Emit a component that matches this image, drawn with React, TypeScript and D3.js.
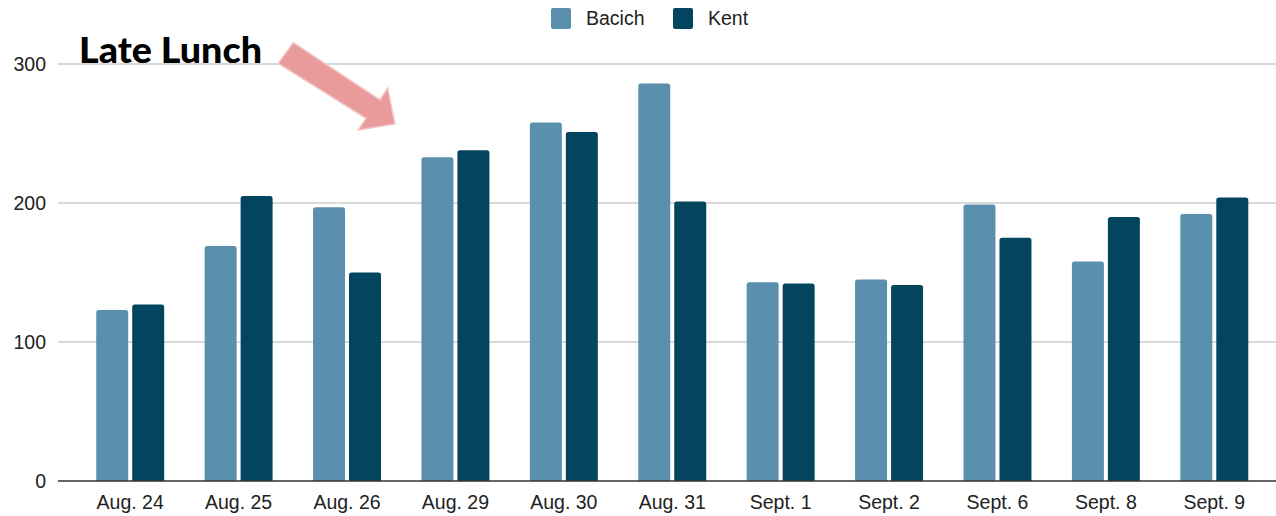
import React from "react";
import * as d3 from "d3";

const categories = ["Aug. 24", "Aug. 25", "Aug. 26", "Aug. 29", "Aug. 30", "Aug. 31", "Sept. 1", "Sept. 2", "Sept. 6", "Sept. 8", "Sept. 9"];
const bacich = [123, 169, 197, 233, 258, 286, 143, 145, 199, 158, 192];
const kent = [127, 205, 150, 238, 251, 201, 142, 141, 175, 190, 204];
const seriesNames = ["Bacich", "Kent"];
const seriesColors = ["#5a90ae", "#03445f"];
const yTicks = [0, 100, 200, 300];

const W = 1276;
const H = 516;

function topRounded(x: number, y: number, w: number, h: number, r: number) {
  const rr = Math.min(r, h, w / 2);
  return `M${x},${y + h}V${y + rr}Q${x},${y} ${x + rr},${y}H${x + w - rr}Q${x + w},${y} ${x + w},${y + rr}V${y + h}Z`;
}

export default function App() {
  const y = d3.scaleLinear().domain([0, 300]).range([481, 64]);
  const x = d3
    .scaleBand<string>()
    .domain(categories)
    .range([76, 1268.5])
    .paddingInner(0.373)
    .paddingOuter(0.1865);
  const xs = d3
    .scaleBand<string>()
    .domain(seriesNames)
    .range([0, x.bandwidth()])
    .paddingInner(4 / 36)
    .paddingOuter(0);
  const data = [bacich, kent];
  const font = "'Liberation Sans', Arial, sans-serif";

  return (
    <svg width={W} height={H} style={{ position: "absolute", left: 0, top: 0, background: "#fff" }}>
      {/* gridlines */}
      {yTicks.map((t) => (
        <g key={t}>
          {t !== 0 && (
            <line x1={58} x2={W} y1={y(t)} y2={y(t)} stroke="#cccccc" strokeWidth={1.3} />
          )}
          <text x={46} y={y(t)} dy="0.35em" textAnchor="end" fontFamily={font} fontSize={19.5} fill="#222">
            {t}
          </text>
        </g>
      ))}
      {/* bars */}
      {categories.map((c, i) => (
        <g key={c}>
          {data.map((series, s) => {
            const x0 = (x(c) as number) + (xs(seriesNames[s]) as number);
            const top = y(series[i]);
            return (
              <path
                key={s}
                d={topRounded(x0, top, xs.bandwidth(), y(0) - top, 2.5)}
                fill={seriesColors[s]}
              />
            );
          })}
          <text
            x={(x(c) as number) + x.bandwidth() / 2}
            y={502}
            dy="0.35em"
            textAnchor="middle"
            fontFamily={font}
            fontSize={19.5}
            fill="#222"
          >
            {c}
          </text>
        </g>
      ))}
      {/* baseline */}
      <line x1={58} x2={W} y1={y(0)} y2={y(0)} stroke="#333" strokeWidth={1.5} />
      {/* legend */}
      {seriesNames.map((n, i) => {
        const lx = [551, 673][i];
        return (
          <g key={n}>
            <rect x={lx} y={8} width={20} height={21} rx={2} fill={seriesColors[i]} />
            <text x={lx + 35} y={18.5} dy="0.35em" fontFamily={font} fontSize={19.5} fill="#222">
              {n}
            </text>
          </g>
        );
      })}
      {/* annotation */}
      <text
        x={79}
        y={63}
        fontFamily="Lato, 'Open Sans', sans-serif"
        fontWeight={900}
        fontSize={36}
        textLength={183}
        lengthAdjust="spacingAndGlyphs"
        fill="#000"
      >
        Late Lunch
      </text>
      <polygon
        points="293.3,42.7 380,100 387.7,88.3 395,124 358.3,130 366,118.3 278.3,63.3"
        fill="#e99a9a"
        stroke="#f4c4c4"
        strokeWidth={1.5}
        strokeLinejoin="miter"
      />
    </svg>
  );
}
